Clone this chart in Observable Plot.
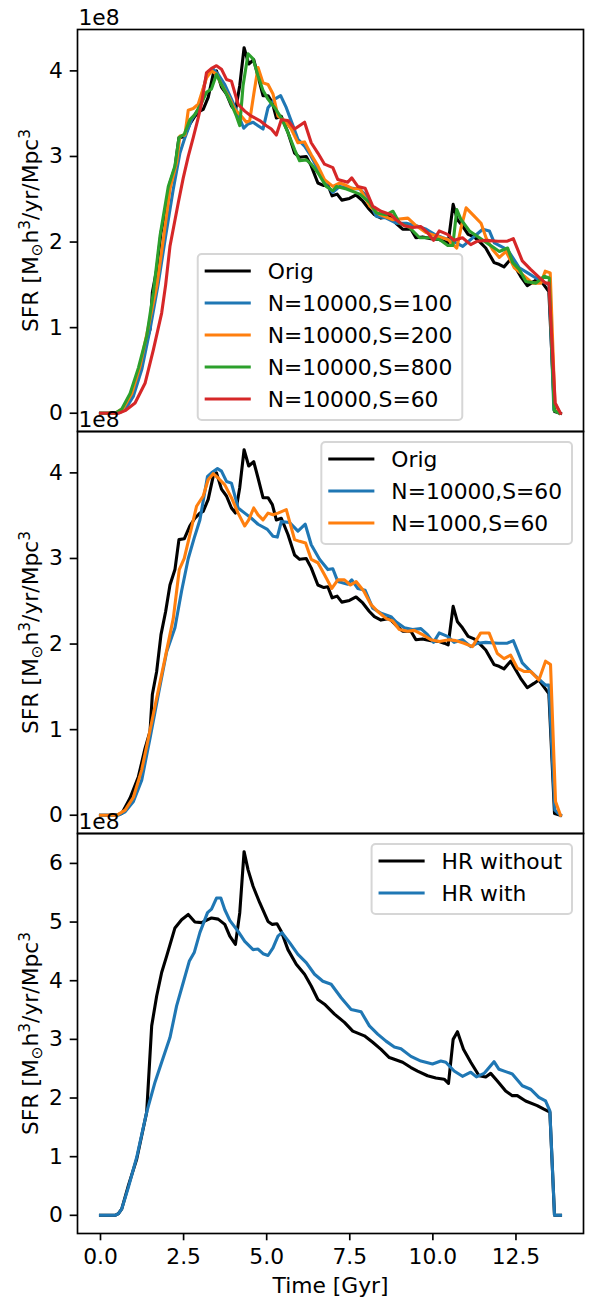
<!DOCTYPE html>
<html><head><meta charset="utf-8">
<script src="https://cdn.jsdelivr.net/npm/d3@7"></script>
<script src="https://cdn.jsdelivr.net/npm/@observablehq/plot@0.6"></script>
<style>
body{margin:0;background:#fff;}
#chart{position:relative;width:590px;height:1298px;}
#chart svg{display:block;}
</style></head><body><div id="chart"></div>
<script>
// ---- data: [time (Gyr), SFR (1e8 Msun h^3/yr/Mpc^3)] ----
const orig = [[0,0],[0.2,0],[0.44,0],[0.64,0.02],[0.89,0.20],[1.14,0.45],[1.34,0.78],[1.49,0.98],[1.56,1.41],[1.69,1.68],[1.82,2.11],[1.96,2.38],[2.09,2.69],[2.24,2.87],[2.36,3.22],[2.52,3.23],[2.69,3.38],[2.84,3.47],[2.99,3.53],[3.09,3.55],[3.24,3.69],[3.39,3.96],[3.49,4.0],[3.64,3.81],[3.79,3.73],[3.94,3.59],[4.06,3.53],[4.19,3.83],[4.32,4.27],[4.46,4.08],[4.61,4.13],[4.74,3.94],[4.89,3.71],[5.04,3.71],[5.17,3.63],[5.29,3.45],[5.44,3.47],[5.64,3.28],[5.84,3.04],[5.99,2.99],[6.19,3.0],[6.34,2.89],[6.54,2.69],[6.72,2.66],[6.84,2.67],[6.97,2.54],[7.12,2.56],[7.26,2.49],[7.49,2.51],[7.69,2.55],[7.89,2.48],[8.09,2.38],[8.24,2.32],[8.44,2.28],[8.69,2.30],[8.89,2.22],[9.09,2.15],[9.34,2.15],[9.49,2.05],[9.69,2.06],[9.94,2.04],[10.19,2.03],[10.34,2.01],[10.46,1.99],[10.61,2.44],[10.74,2.26],[10.89,2.19],[11.06,2.09],[11.24,2.06],[11.44,1.99],[11.59,1.93],[11.84,1.76],[11.99,1.74],[12.14,1.71],[12.34,1.80],[12.64,1.60],[12.84,1.49],[13.04,1.54],[13.19,1.58],[13.34,1.50],[13.49,1.42],[13.66,0.02],[13.84,0]];
const s100 = [[0,0],[0.2,0],[0.49,0],[0.74,0.04],[0.99,0.2],[1.24,0.51],[1.49,0.98],[1.74,1.52],[1.96,2.07],[2.19,2.62],[2.39,3.04],[2.54,3.22],[2.74,3.43],[2.94,3.55],[3.19,3.94],[3.39,4.02],[3.54,3.96],[3.74,3.84],[3.94,3.67],[4.14,3.49],[4.31,3.33],[4.44,3.38],[4.59,3.40],[4.74,3.36],[4.89,3.32],[5.04,3.57],[5.24,3.67],[5.42,3.71],[5.59,3.57],[5.79,3.36],[5.94,3.20],[6.14,3.12],[6.34,3.0],[6.54,2.85],[6.74,2.69],[6.99,2.58],[7.2,2.65],[7.5,2.63],[7.8,2.62],[8.0,2.54],[8.3,2.30],[8.6,2.28],[8.9,2.22],[9.2,2.22],[9.5,2.19],[9.8,2.15],[10.05,2.09],[10.3,2.05],[10.6,2.01],[10.9,1.95],[11.2,2.05],[11.5,2.15],[11.7,2.13],[11.85,1.99],[12.05,1.95],[12.25,1.91],[12.6,1.70],[12.85,1.64],[13.1,1.58],[13.4,1.52],[13.5,1.50],[13.64,0.04],[13.8,0]];
const s200 = [[0,0],[0.2,0],[0.44,0],[0.69,0.06],[0.94,0.23],[1.19,0.55],[1.44,1.01],[1.69,1.48],[1.89,2.03],[2.09,2.62],[2.29,2.93],[2.39,3.24],[2.54,3.25],[2.64,3.54],[2.79,3.56],[2.94,3.61],[3.19,3.92],[3.34,4.0],[3.49,3.96],[3.64,3.84],[3.84,3.71],[4.04,3.55],[4.24,3.47],[4.39,3.40],[4.49,3.42],[4.62,3.75],[4.74,4.04],[4.89,3.86],[5.04,3.84],[5.19,3.73],[5.34,3.47],[5.54,3.42],[5.74,3.32],[5.94,3.16],[6.14,3.17],[6.34,3.02],[6.54,2.89],[6.74,2.73],[6.99,2.65],[7.2,2.69],[7.4,2.66],[7.6,2.62],[7.8,2.63],[8.1,2.42],[8.4,2.32],[8.8,2.26],[9.25,2.28],[9.5,2.19],[9.8,2.11],[10.1,2.07],[10.45,2.03],[10.72,1.93],[10.85,2.17],[11.0,2.40],[11.25,2.30],[11.45,2.22],[11.6,2.05],[11.8,1.91],[12.0,1.82],[12.2,1.89],[12.45,1.70],[12.7,1.62],[13.0,1.52],[13.25,1.52],[13.38,1.66],[13.53,1.64],[13.67,0.12],[13.82,0]];
const s800 = [[0,0],[0.2,0],[0.44,0],[0.64,0.05],[0.89,0.23],[1.14,0.53],[1.39,0.90],[1.59,1.41],[1.79,2.07],[2.04,2.65],[2.24,2.89],[2.36,3.22],[2.52,3.26],[2.69,3.43],[2.84,3.49],[3.02,3.61],[3.19,3.75],[3.34,3.79],[3.49,3.96],[3.64,3.84],[3.79,3.73],[3.94,3.61],[4.09,3.47],[4.19,3.36],[4.29,3.83],[4.44,4.2],[4.59,4.14],[4.74,3.94],[4.89,3.77],[5.04,3.67],[5.24,3.57],[5.44,3.45],[5.64,3.28],[5.84,3.08],[5.99,2.95],[6.19,2.96],[6.34,2.91],[6.54,2.81],[6.79,2.65],[6.99,2.60],[7.1,2.65],[7.4,2.62],[7.8,2.56],[8.1,2.46],[8.3,2.34],[8.6,2.32],[8.8,2.36],[9.0,2.22],[9.3,2.17],[9.6,2.05],[9.9,2.05],[10.2,2.03],[10.45,1.96],[10.6,1.96],[10.72,2.38],[10.85,2.26],[11.1,2.13],[11.4,2.05],[11.7,1.97],[12.0,1.89],[12.25,1.93],[12.4,1.76],[12.6,1.68],[12.8,1.54],[13.1,1.52],[13.35,1.60],[13.5,1.58],[13.65,0.03],[13.8,0]];
const s60top = [[0,0],[0.2,0],[0.54,0],[0.74,0.03],[1.04,0.12],[1.34,0.35],[1.59,0.74],[1.84,1.17],[1.96,1.5],[2.09,1.95],[2.34,2.46],[2.49,2.75],[2.64,3.0],[2.79,3.22],[2.94,3.45],[3.04,3.62],[3.19,3.98],[3.34,4.03],[3.49,4.06],[3.64,4.02],[3.79,3.90],[3.94,3.88],[4.14,3.61],[4.34,3.53],[4.54,3.47],[4.79,3.42],[4.99,3.36],[5.14,3.32],[5.29,3.25],[5.44,3.43],[5.64,3.42],[5.84,3.32],[6.14,3.40],[6.34,3.16],[6.54,3.04],[6.74,2.91],[6.99,2.87],[7.14,2.73],[7.44,2.70],[7.56,2.75],[7.74,2.65],[7.96,2.63],[8.19,2.42],[8.44,2.36],[8.74,2.32],[8.89,2.26],[9.14,2.19],[9.39,2.17],[9.64,2.18],[9.84,2.11],[10.02,2.02],[10.19,2.13],[10.44,2.09],[10.64,2.02],[10.89,2.05],[11.14,1.97],[11.34,2.01],[11.59,2.02],[11.96,2.01],[12.24,2.01],[12.42,2.04],[12.69,1.78],[12.94,1.68],[13.19,1.59],[13.39,1.52],[13.49,1.52],[13.68,0.12],[13.84,0]];
const s60mid = [[0,0],[0.2,0],[0.54,0],[0.74,0.04],[0.99,0.16],[1.24,0.41],[1.49,0.90],[1.74,1.41],[1.99,1.91],[2.24,2.19],[2.44,2.62],[2.64,3.0],[2.82,3.24],[2.99,3.45],[3.22,3.96],[3.34,4.0],[3.52,4.05],[3.64,4.02],[3.79,3.90],[3.94,3.88],[4.14,3.59],[4.34,3.53],[4.54,3.47],[4.74,3.40],[5.02,3.34],[5.19,3.26],[5.32,3.25],[5.44,3.43],[5.69,3.42],[5.94,3.32],[6.16,3.40],[6.34,3.16],[6.59,2.99],[6.84,2.87],[6.99,2.88],[7.14,2.73],[7.44,2.70],[7.56,2.75],[7.74,2.65],[7.96,2.63],[8.19,2.42],[8.44,2.36],[8.74,2.32],[8.89,2.26],[9.14,2.19],[9.39,2.17],[9.64,2.18],[9.84,2.11],[10.02,2.02],[10.19,2.13],[10.44,2.09],[10.64,2.02],[10.89,2.05],[11.14,1.97],[11.34,2.01],[11.59,2.02],[11.96,2.01],[12.24,2.01],[12.42,2.04],[12.69,1.78],[12.94,1.68],[13.19,1.59],[13.39,1.52],[13.49,1.52],[13.67,0.06],[13.84,0]];
const n1000 = [[0,0],[0.2,0],[0.49,0],[0.74,0.06],[0.99,0.21],[1.24,0.53],[1.44,0.90],[1.69,1.37],[1.94,1.83],[2.19,2.30],[2.37,2.87],[2.52,3.0],[2.69,3.28],[2.89,3.61],[3.09,3.73],[3.24,3.92],[3.39,3.99],[3.54,3.94],[3.74,3.86],[3.94,3.71],[4.14,3.53],[4.34,3.38],[4.46,3.45],[4.61,3.59],[4.74,3.51],[4.89,3.45],[5.04,3.53],[5.19,3.51],[5.34,3.53],[5.59,3.57],[5.84,3.22],[5.99,3.20],[6.17,3.18],[6.34,2.99],[6.54,2.95],[6.74,2.81],[6.96,2.65],[7.14,2.75],[7.34,2.75],[7.52,2.69],[7.69,2.73],[7.92,2.62],[8.14,2.46],[8.34,2.38],[8.59,2.30],[8.79,2.27],[8.99,2.17],[9.24,2.15],[9.44,2.16],[9.69,2.11],[9.94,2.05],[10.19,2.03],[10.49,2.05],[10.69,2.04],[10.94,2.01],[11.19,1.97],[11.44,2.13],[11.69,2.13],[11.94,1.89],[12.14,1.83],[12.34,1.87],[12.54,1.72],[12.74,1.68],[12.94,1.68],[13.19,1.58],[13.39,1.80],[13.54,1.76],[13.69,0.16],[13.84,0]];
const hrWithout = [[0,0],[0.2,0],[0.44,0],[0.54,0.03],[0.64,0.11],[0.84,0.51],[1.09,0.96],[1.39,1.76],[1.54,3.23],[1.69,3.74],[1.84,4.14],[1.99,4.42],[2.24,4.90],[2.44,5.04],[2.64,5.13],[2.84,5.0],[3.04,4.99],[3.34,5.07],[3.54,5.05],[3.74,4.96],[3.89,4.76],[4.06,4.62],[4.19,5.16],[4.32,6.2],[4.44,5.89],[4.59,5.61],[4.79,5.33],[5.04,5.01],[5.17,4.96],[5.31,4.97],[5.44,4.84],[5.64,4.53],[5.89,4.28],[6.14,4.11],[6.34,3.91],[6.54,3.68],[6.74,3.60],[7.04,3.43],[7.34,3.29],[7.59,3.14],[7.94,3.06],[8.19,2.95],[8.44,2.83],[8.69,2.69],[9.09,2.61],[9.34,2.52],[9.54,2.46],[9.84,2.38],[10.09,2.34],[10.34,2.32],[10.47,2.25],[10.61,3.0],[10.74,3.13],[10.92,2.83],[11.14,2.61],[11.39,2.38],[11.59,2.36],[11.74,2.42],[11.94,2.29],[12.19,2.12],[12.39,2.04],[12.54,2.04],[12.79,1.95],[13.14,1.87],[13.34,1.81],[13.52,1.76],[13.66,0],[13.84,0]];
const hrWith = [[0,0],[0.2,0],[0.44,0],[0.54,0.03],[0.64,0.11],[0.84,0.48],[1.09,0.99],[1.39,1.76],[1.64,2.27],[1.84,2.61],[2.09,3.03],[2.29,3.57],[2.49,3.97],[2.67,4.33],[2.82,4.48],[2.99,4.82],[3.22,5.16],[3.34,5.22],[3.49,5.41],[3.62,5.41],[3.74,5.21],[3.89,5.03],[4.14,4.84],[4.34,4.67],[4.59,4.53],[4.74,4.54],[4.89,4.46],[5.04,4.43],[5.19,4.56],[5.34,4.76],[5.46,4.82],[5.69,4.65],[5.94,4.45],[6.19,4.31],[6.44,4.11],[6.69,3.99],[6.94,3.94],[7.24,3.71],[7.54,3.51],[7.84,3.47],[8.09,3.23],[8.34,3.09],[8.59,2.97],[8.84,2.87],[9.04,2.84],[9.34,2.71],[9.64,2.63],[9.99,2.58],[10.24,2.63],[10.39,2.61],[10.64,2.46],[10.89,2.37],[11.14,2.44],[11.31,2.36],[11.54,2.42],[11.84,2.62],[11.99,2.49],[12.19,2.45],[12.39,2.41],[12.69,2.21],[12.94,2.15],[13.19,2.01],[13.39,1.95],[13.52,1.78],[13.66,0],[13.84,0]];

const timeTicks = [0, 2.5, 5, 7.5, 10, 12.5];
const sfrTicks = [0, 1, 2, 3, 4];
const sfrTicksHR = [0, 1, 2, 3, 4, 5, 6];
const yLabel = "SFR [M\u2299h\u00B3/yr/Mpc\u00B3";
const xLabel = "Time [Gyr]";
const offsetLabel = "1e8";

const COL = {black: "#000000", blue: "#1f77b4", orange: "#ff7f0e", green: "#2ca02c", red: "#d62728"};

const panels = [
  {series: [
    {name: "Orig", pts: orig, color: COL.black},
    {name: "N=10000,S=100", pts: s100, color: COL.blue},
    {name: "N=10000,S=200", pts: s200, color: COL.orange},
    {name: "N=10000,S=800", pts: s800, color: COL.green},
    {name: "N=10000,S=60", pts: s60top, color: COL.red}],
   ticks: sfrTicks, legend: "lower center", height: 431, mt: 29, mb: 0, showX: false},
  {series: [
    {name: "Orig", pts: orig, color: COL.black},
    {name: "N=10000,S=60", pts: s60mid, color: COL.blue},
    {name: "N=1000,S=60", pts: n1000, color: COL.orange}],
   ticks: sfrTicks, legend: "upper right", height: 402, mt: 0, mb: 0, showX: false},
  {series: [
    {name: "HR without", pts: hrWithout, color: COL.black},
    {name: "HR with", pts: hrWith, color: COL.blue}],
   ticks: sfrTicksHR, legend: "upper right", height: 465, mt: 0, mb: 65, showX: true}
];

const W = 590, ML = 77, MR = 7, FS = 21.8, LW = 3.1, AW = 1.67, TL = 7.3;
const allPts = panels.flatMap(p => p.series.flatMap(s => s.pts));
const tMin = d3.min(allPts, d => d[0]), tMax = d3.max(allPts, d => d[0]);
const tPad = (tMax - tMin) * 0.05;
const xDomain = [tMin - tPad, tMax + tPad];

const root = document.getElementById("chart");

panels.forEach(p => {
  const pts = p.series.flatMap(s => s.pts);
  const vMax = d3.max(pts, d => d[1]), vMin = d3.min(pts, d => d[1]);
  const vPad = (vMax - vMin) * 0.05;
  const marks = [];
  p.series.forEach(s => marks.push(Plot.line(s.pts, {
    x: d => d[0], y: d => d[1], stroke: s.color, strokeWidth: LW,
    strokeLinejoin: "round", strokeLinecap: "square"})));
  marks.push(Plot.frame({stroke: "black", strokeWidth: AW}));
  marks.push(Plot.axisY({ticks: p.ticks, tickSize: TL, tickPadding: TL, tickFormat: d => String(d),
    strokeWidth: AW, label: null}));
  if (p.showX) {
    marks.push(Plot.axisX({ticks: timeTicks, tickSize: TL, tickPadding: 8, tickFormat: d3.format(".1f"),
      strokeWidth: AW, label: null}));
    marks.push(Plot.text([xLabel], {text: d => d, frameAnchor: "bottom", lineAnchor: "top", dy: 44, fill: "black"}));
  }
  marks.push(Plot.text([offsetLabel], {text: d => d, frameAnchor: "top-left", textAnchor: "start",
    lineAnchor: "bottom", dx: 1, dy: -5, fill: "black"}));
  marks.push(Plot.text([yLabel], {text: d => d, frameAnchor: "left", rotate: -90, textAnchor: "middle",
    lineAnchor: "bottom", dx: -40, fill: "black"}));

  const svg = Plot.plot({
    width: W, height: p.height,
    marginLeft: ML, marginRight: MR, marginTop: p.mt, marginBottom: p.mb,
    x: {domain: xDomain, axis: null},
    y: {domain: [vMin - vPad, vMax + vPad], axis: null},
    style: {fontFamily: "DejaVu Sans", fontSize: FS + "px", color: "black",
      background: "transparent", overflow: "visible"},
    marks
  });
  root.appendChild(svg);
  const S = d3.select(svg);

  // y label with sub/superscripts
  S.selectAll("text").filter(function() { return this.textContent === yLabel; }).each(function() {
    const t = d3.select(this);
    t.text("");
    const sm = (FS * 0.7).toFixed(1) + "px";
    t.append("tspan").text("SFR [M");
    t.append("tspan").attr("font-size", sm).attr("dy", 4).text("\u2299");
    t.append("tspan").attr("dy", -4).text("h");
    t.append("tspan").attr("font-size", sm).attr("dy", -8).text("3");
    t.append("tspan").attr("dy", 8).text("/yr/Mpc");
    t.append("tspan").attr("font-size", sm).attr("dy", -8).text("3");
  });

  // legend (matplotlib-like)
  const g = S.append("g").attr("font-family", "DejaVu Sans").attr("font-size", FS).attr("text-anchor", "start");
  const tmp = g.append("text");
  let maxW = 0;
  p.series.forEach(s => { tmp.text(s.name); maxW = Math.max(maxW, tmp.node().getComputedTextLength()); });
  tmp.remove();
  const n = p.series.length, bw = maxW + 80, bh = 6 + 32 * n;
  const L = ML, R = W - MR, T = p.mt, B = p.height - p.mb;
  let x0, y0;
  if (p.legend === "lower center") { x0 = (L + R) / 2 - bw / 2; y0 = B - 11 - bh; }
  else { x0 = R - 11 - bw; y0 = T + 11; }
  g.append("rect").attr("x", x0).attr("y", y0).attr("width", bw).attr("height", bh).attr("rx", 4)
    .attr("fill", "white").attr("fill-opacity", 0.8).attr("stroke", "#cccccc").attr("stroke-opacity", 0.8)
    .attr("stroke-width", 2);
  p.series.forEach((s, i) => {
    const cy = y0 + 17 + 32 * i;
    g.append("line").attr("x1", x0 + 8.5).attr("x2", x0 + 51.5).attr("y1", cy).attr("y2", cy)
      .attr("stroke", s.color).attr("stroke-width", LW).attr("stroke-linecap", "square");
    g.append("text").attr("x", x0 + 70).attr("y", cy).attr("dy", "0.36em").attr("fill", "black")
      .attr("text-anchor", "start").text(s.name);
  });
});
</script>
</body></html>
